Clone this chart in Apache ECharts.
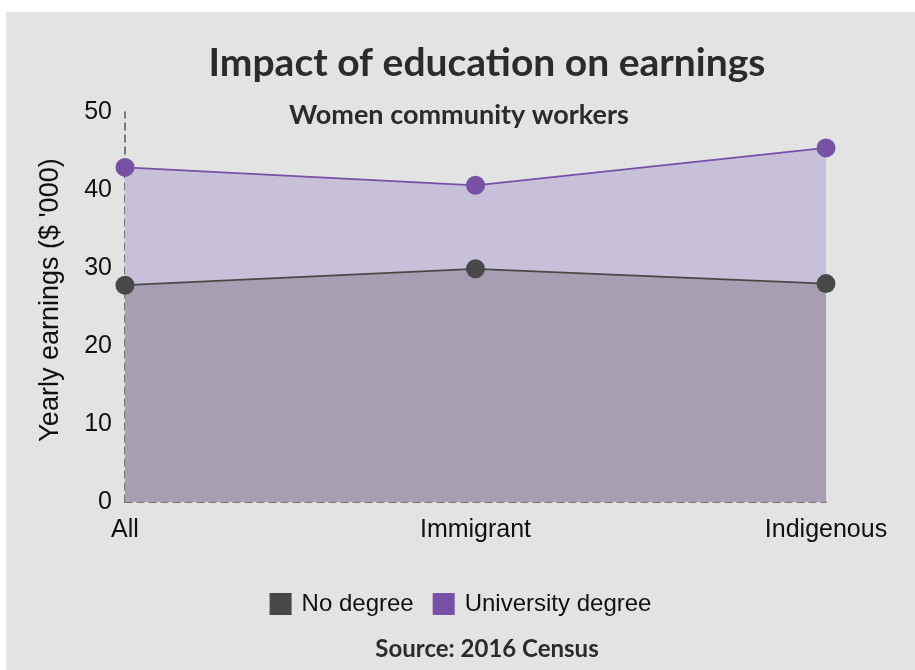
<!DOCTYPE html>
<html>
<head>
<meta charset="utf-8">
<title>Impact of education on earnings</title>
<script src="https://cdn.jsdelivr.net/npm/echarts@6/dist/echarts.min.js"></script>
<style>
  html, body { margin: 0; padding: 0; background: #ffffff; }
  #chart {
    position: absolute;
    left: 6px;
    top: 12px;
    width: 909px;
    height: 658px;
    background: #e3e3e3;
  }
</style>
</head>
<body>
<div id="chart"></div>
<script>
// groups on the x axis
const categories = ["All", "Immigrant", "Indigenous"];
// yearly earnings, $ '000
const noDegree = [27.8, 29.9, 28.0];
const universityDegree = [42.9, 40.6, 45.4];
const yTicks = [0, 10, 20, 30, 40, 50];

const darkColor = "#474948";
const purpleColor = "#7651a5";

const chart = echarts.init(document.getElementById("chart"));
chart.setOption({
  animation: false,
  textStyle: { fontFamily: "Liberation Sans, Arial, sans-serif" },
  graphic: [
    {
      type: "text",
      x: 481,
      y: 51,
      style: {
        text: "Impact of education on earnings",
        font: "bold 39px Lato, sans-serif",
        fill: "#2b2b2b",
        align: "center",
        verticalAlign: "middle",
      },
    },
    {
      type: "text",
      x: 453,
      y: 103,
      style: {
        text: "Women community workers",
        font: "bold 27px Lato, sans-serif",
        fill: "#2b2b2b",
        align: "center",
        verticalAlign: "middle",
      },
    },
    {
      type: "text",
      x: 481,
      y: 637,
      style: {
        text: "Source: 2016 Census",
        font: "bold 24px Lato, sans-serif",
        fill: "#2b2b2b",
        align: "center",
        verticalAlign: "middle",
      },
    },
  ],
  legend: {
    data: ["No degree", "University degree"],
    left: "center",
    top: 575,
    icon: "rect",
    itemWidth: 22,
    itemHeight: 22,
    itemGap: 19,
    itemStyle: { borderRadius: 2 },
    textStyle: {
      fontSize: 24,
      color: "#111",
      fontFamily: "Liberation Sans, Arial, sans-serif",
      padding: [0, 0, 0, 5],
    },
  },
  grid: {
    left: 119,
    right: 89,
    top: 100,
    bottom: 168,
    containLabel: false,
  },
  xAxis: {
    type: "category",
    data: categories,
    boundaryGap: false,
    axisTick: { show: false },
    axisLine: {
      show: true,
      lineStyle: { color: "#555", width: 1.5, type: [7, 5] },
    },
    axisLabel: { fontSize: 25, color: "#111", margin: 16 },
    splitLine: { show: false },
  },
  yAxis: {
    type: "value",
    min: yTicks[0],
    max: yTicks[yTicks.length - 1],
    interval: 10,
    name: "Yearly earnings ($ '000)",
    nameLocation: "middle",
    nameGap: 61,
    nameTextStyle: { fontSize: 27, color: "#111", padding: [0, 0, 0, 14] },
    axisLine: {
      show: true,
      lineStyle: { color: "#555", width: 1.5, type: [7, 5] },
    },
    axisTick: { show: false },
    axisLabel: { fontSize: 25, color: "#111", margin: 13 },
    splitLine: { show: false },
  },
  series: [
    {
      name: "University degree",
      type: "line",
      data: universityDegree,
      symbol: "circle",
      symbolSize: 19,
      color: purpleColor,
      lineStyle: { color: purpleColor, width: 1.8 },
      itemStyle: { color: purpleColor },
      areaStyle: { color: "#c8c0d8", opacity: 1 },
      z: 2,
    },
    {
      name: "No degree",
      type: "line",
      data: noDegree,
      symbol: "circle",
      symbolSize: 19,
      color: darkColor,
      lineStyle: { color: darkColor, width: 1.8 },
      itemStyle: { color: darkColor },
      areaStyle: { color: "#a89eb1", opacity: 1 },
      z: 3,
    },
  ],
});
</script>
</body>
</html>
